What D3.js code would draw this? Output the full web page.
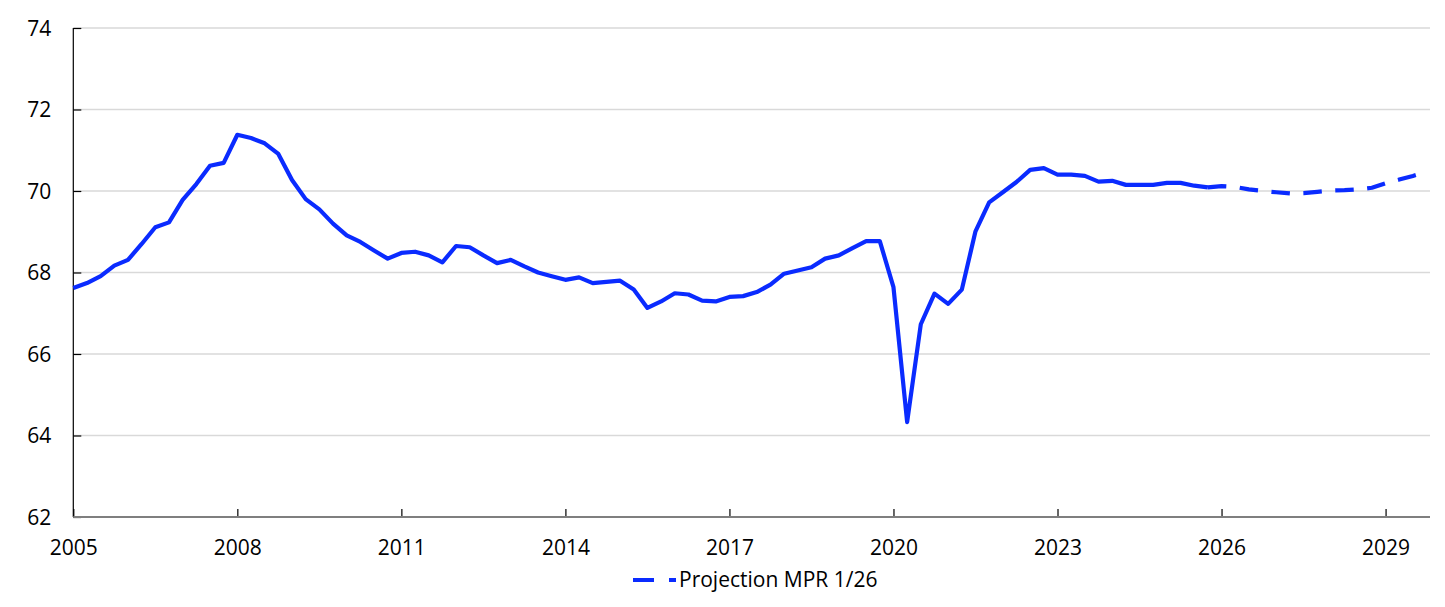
<!DOCTYPE html>
<html>
<head>
<meta charset="utf-8">
<script src="https://cdn.jsdelivr.net/npm/d3@7"></script>
<style>
  html, body { margin: 0; padding: 0; background: #fff; }
  svg { display: block; }
  text { font-family: "Open Sans", "Liberation Sans", sans-serif; fill: #000; }
</style>
</head>
<body>
<svg id="chart" width="1445" height="607"></svg>
<script>
// ---- data (quarterly, starting 2005Q1) ----
const startYear = 2005;
const actualValues = [
  67.62, 67.74, 67.91, 68.17, 68.31, 68.70, 69.11, 69.23,
  69.78, 70.17, 70.62, 70.69, 71.38, 71.30, 71.17, 70.91,
  70.27, 69.80, 69.55, 69.20, 68.91, 68.75, 68.54, 68.34,
  68.48, 68.51, 68.42, 68.25, 68.65, 68.62, 68.42, 68.23,
  68.31, 68.15, 68.00, 67.91, 67.82, 67.88, 67.74, 67.77,
  67.80, 67.58, 67.13, 67.29, 67.49, 67.46, 67.31, 67.29,
  67.40, 67.42, 67.52, 67.70, 67.97, 68.05, 68.13, 68.34,
  68.42, 68.60, 68.77, 68.77, 67.64, 64.33, 66.73, 67.48,
  67.23, 67.58, 69.01, 69.72, 69.97, 70.22, 70.52, 70.56,
  70.40, 70.40, 70.37, 70.23, 70.25, 70.15, 70.15, 70.15,
  70.20, 70.20, 70.13, 70.09
];
// projection starts at 2025Q4 (index 83)
const projectionStartIndex = 83;
const projectionValues = [
  70.09, 70.12, 70.10, 70.04, 70.00, 69.97, 69.94, 69.95,
  69.98, 70.01, 70.02, 70.04, 70.08, 70.19, 70.28, 70.37, 70.47
];
const xTickYears = [2005, 2008, 2011, 2014, 2017, 2020, 2023, 2026, 2029];
const yTicks = [62, 64, 66, 68, 70, 72, 74];
const legendLabel = "Projection MPR 1/26";

(function () {
// ---- build series ----
const actual = actualValues.map((v, i) => ({ t: startYear + i / 4, v }));
const projection = projectionValues.map((v, i) => ({ t: startYear + (projectionStartIndex + i) / 4, v }));

const svg = d3.select("#chart");
const mL = 73.3, mR = 1430, mT = 28, mB = 517;

const x = d3.scaleLinear().domain([2005, 2029.8125]).range([mL, mR]);
const y = d3.scaleLinear().domain([62, 74]).range([mB, mT]);

const blue = "#0a2bff";

// gridlines
svg.append("g")
  .selectAll("line")
  .data(yTicks.filter(d => d !== 62))
  .join("line")
  .attr("x1", mL).attr("x2", mR)
  .attr("y1", d => y(d)).attr("y2", d => y(d))
  .attr("stroke", "#d9d9d9").attr("stroke-width", 1.5);

// y axis
const yAxis = svg.append("g").attr("transform", `translate(${mL},0)`)
  .call(d3.axisRight(y).tickValues(yTicks).tickSize(8).tickFormat(d3.format("d")));
yAxis.select(".domain").remove();
yAxis.selectAll(".tick line").attr("stroke", "#000").attr("stroke-width", 1.2);
yAxis.selectAll(".tick text")
  .attr("x", -22).attr("text-anchor", "end")
  .attr("dy", "0.35em")
  .style("font-size", "21px").style("font-family", "'Open Sans', sans-serif");
svg.append("line")
  .attr("x1", mL).attr("x2", mL).attr("y1", mT).attr("y2", mB)
  .attr("stroke", "#000").attr("stroke-width", 1.2);

// x axis
const xAxis = svg.append("g").attr("transform", `translate(0,${mB})`)
  .call(d3.axisTop(x).tickValues(xTickYears).tickSize(8).tickFormat(d3.format("d")));
xAxis.select(".domain").remove();
xAxis.selectAll(".tick line").attr("stroke", "#000").attr("stroke-width", 1.2);
xAxis.selectAll(".tick text")
  .attr("y", 38).attr("dy", "0")
  .attr("text-anchor", "middle")
  .style("font-size", "21px").style("font-family", "'Open Sans', sans-serif");
svg.append("line")
  .attr("x1", mL).attr("x2", mR).attr("y1", mB).attr("y2", mB)
  .attr("stroke", "#7f7f7f").attr("stroke-width", 2);

// lines
const line = d3.line().x(d => x(d.t)).y(d => y(d.v));
svg.append("path").datum(actual)
  .attr("d", line).attr("fill", "none")
  .attr("stroke", blue).attr("stroke-width", 4.2)
  .attr("stroke-linejoin", "round");
svg.append("path").datum(projection)
  .attr("d", line).attr("fill", "none")
  .attr("stroke", blue).attr("stroke-width", 4.2)
  .attr("stroke-dasharray", "18.5,13.5")
  .attr("stroke-linejoin", "round");

// legend
const lg = svg.append("g").attr("transform", "translate(633,580)");
lg.append("line").attr("x1", 0).attr("x2", 43).attr("y1", 0).attr("y2", 0)
  .attr("stroke", blue).attr("stroke-width", 4.2).attr("stroke-dasharray", "21,15");
lg.append("text").attr("x", 46).attr("y", 0).attr("dy", "0.35em")
  .style("font-size", "21px").text(legendLabel);
})();
</script>
</body>
</html>
